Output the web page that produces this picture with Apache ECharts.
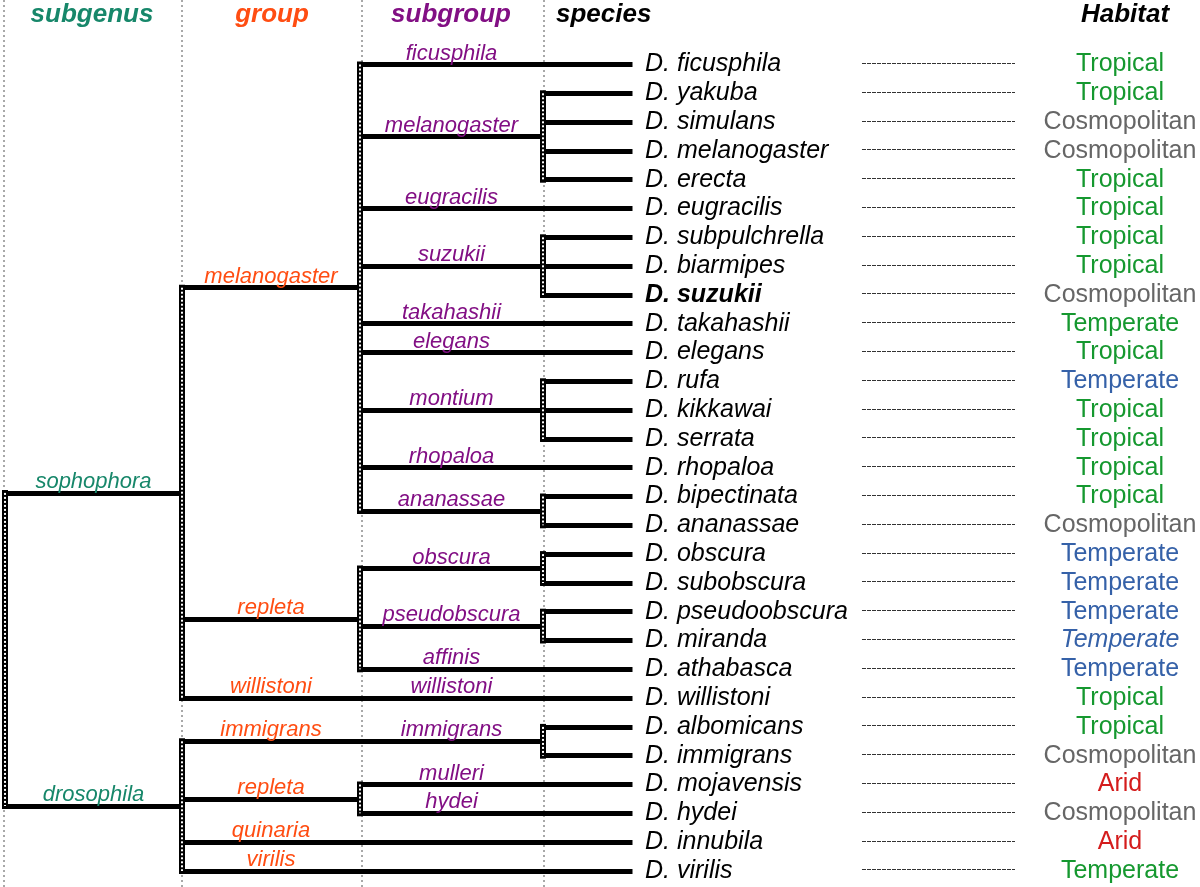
<!DOCTYPE html>
<html>
<head>
    <meta charset="utf-8">
    <title>Drosophila phylogeny</title>
    <script src="https://cdn.jsdelivr.net/npm/echarts@6/dist/echarts.min.js"></script>
</head>
<body style="margin:0;background:#fff;">
    <div id="main" style="width:1200px;height:887px;"></div>
    <script type="text/javascript">
        // one entry per species, top to bottom
        var species = ['D. ficusphila', 'D. yakuba', 'D. simulans', 'D. melanogaster', 'D. erecta',
            'D. eugracilis', 'D. subpulchrella', 'D. biarmipes', 'D. suzukii', 'D. takahashii',
            'D. elegans', 'D. rufa', 'D. kikkawai', 'D. serrata', 'D. rhopaloa',
            'D. bipectinata', 'D. ananassae', 'D. obscura', 'D. subobscura', 'D. pseudoobscura',
            'D. miranda', 'D. athabasca', 'D. willistoni', 'D. albomicans', 'D. immigrans',
            'D. mojavensis', 'D. hydei', 'D. innubila', 'D. virilis'];
        var subgenusOf = ['sophophora', 'sophophora', 'sophophora', 'sophophora', 'sophophora',
            'sophophora', 'sophophora', 'sophophora', 'sophophora', 'sophophora',
            'sophophora', 'sophophora', 'sophophora', 'sophophora', 'sophophora',
            'sophophora', 'sophophora', 'sophophora', 'sophophora', 'sophophora',
            'sophophora', 'sophophora', 'sophophora', 'drosophila', 'drosophila',
            'drosophila', 'drosophila', 'drosophila', 'drosophila'];
        var groupOf = ['melanogaster', 'melanogaster', 'melanogaster', 'melanogaster', 'melanogaster',
            'melanogaster', 'melanogaster', 'melanogaster', 'melanogaster', 'melanogaster',
            'melanogaster', 'melanogaster', 'melanogaster', 'melanogaster', 'melanogaster',
            'melanogaster', 'melanogaster', 'repleta', 'repleta', 'repleta',
            'repleta', 'repleta', 'willistoni', 'immigrans', 'immigrans',
            'repleta', 'repleta', 'quinaria', 'virilis'];
        var subgroupOf = ['ficusphila', 'melanogaster', 'melanogaster', 'melanogaster', 'melanogaster',
            'eugracilis', 'suzukii', 'suzukii', 'suzukii', 'takahashii',
            'elegans', 'montium', 'montium', 'montium', 'rhopaloa',
            'ananassae', 'ananassae', 'obscura', 'obscura', 'pseudobscura',
            'pseudobscura', 'affinis', 'willistoni', 'immigrans', 'immigrans',
            'mulleri', 'hydei', '', ''];
        var habitat = ['Tropical', 'Tropical', 'Cosmopolitan', 'Cosmopolitan', 'Tropical',
            'Tropical', 'Tropical', 'Tropical', 'Cosmopolitan', 'Temperate',
            'Tropical', 'Temperate', 'Tropical', 'Tropical', 'Tropical',
            'Tropical', 'Cosmopolitan', 'Temperate', 'Temperate', 'Temperate',
            'Temperate', 'Temperate', 'Tropical', 'Tropical', 'Cosmopolitan',
            'Arid', 'Cosmopolitan', 'Arid', 'Temperate'];
        var habitatTone = ['green', 'green', 'grey', 'grey', 'green',
            'green', 'green', 'green', 'grey', 'green',
            'green', 'blue', 'green', 'green', 'green',
            'green', 'grey', 'blue', 'blue', 'blue',
            'blue', 'blue', 'green', 'green', 'grey',
            'red', 'grey', 'red', 'green'];
        var headers = ['subgenus', 'group', 'subgroup', 'species', 'Habitat'];

        // layout
        var levelX = [5, 182, 360, 543];   // root, subgenus, group, subgroup nodes
        var leafX = 630;
        var guideX = [4, 182, 362, 544];
        var headerX = [92, 272, 451, 556, 1125];
        var rowTop = 64.5, rowStep = 28.8, H = 887;
        var yMin = -rowTop / rowStep, yMax = yMin + H / rowStep;
        var font = 'Liberation Sans';
        var rankColor = ['', '#17876a', '#ff4d12', '#820f84'];
        var toneColor = {green: '#15982f', blue: '#3561a8', grey: '#666666', red: '#d41c1c'};

        // build the tree from consecutive runs of each rank
        var rankKeys = [subgenusOf, groupOf, subgroupOf];
        function build(idx, depth, name) {
            var node = {x: levelX[depth], name: name, depth: depth, children: []};
            if (depth === rankKeys.length) {
                idx.forEach(function (i) { node.children.push({x: leafX, y: i, leaf: true}); });
            } else {
                var keys = rankKeys[depth], run = [];
                idx.forEach(function (i, k) {
                    run.push(i);
                    var next = idx[k + 1];
                    if (next === undefined || keys[next] !== keys[i]) {
                        node.children.push(build(run, depth + 1, keys[i]));
                        run = [];
                    }
                });
            }
            var c = node.children;
            node.y = (c[0].y + c[c.length - 1].y) / 2;
            return node;
        }
        var root = build(species.map(function (s, i) { return i; }), 0, '');

        var hSegs = [], vSegs = [], tags = [];
        function walk(node, parent) {
            if (parent) {
                hSegs.push({coords: [[parent.x, node.y], [node.x, node.y]]});
                if (node.name) {
                    tags.push({value: [(parent.x + node.x) / 2, node.y], name: node.name,
                        label: {color: rankColor[node.depth]}});
                }
            }
            if (node.leaf) return;
            var c = node.children;
            if (c.length > 1) vSegs.push({coords: [[node.x, c[0].y], [node.x, c[c.length - 1].y]]});
            c.forEach(function (ch) { walk(ch, node); });
        }
        walk(root, null);

        var guides = guideX.map(function (x) { return {coords: [[x, yMin], [x, yMax]]}; });
        var dashes = species.map(function (s, i) { return {coords: [[862, i - 0.04], [1015, i - 0.04]]}; });

        var speciesData = species.map(function (s, i) {
            return {value: [645, i], name: s, label: {fontWeight: s === 'D. suzukii' ? 'bold' : 'normal'}};
        });
        var habitatData = habitat.map(function (h, i) {
            return {value: [1120, i], name: h,
                label: {color: toneColor[habitatTone[i]], fontStyle: species[i] === 'D. miranda' ? 'italic' : 'normal'}};
        });
        var headerData = headers.map(function (h, i) {
            return {value: [headerX[i], yMin + 15 / rowStep], name: h,
                label: {color: i < 3 ? rankColor[i + 1] : '#000', position: i === 3 ? 'right' : 'inside'}};
        });

        var solid = {opacity: 1};
        var myChart = echarts.init(document.getElementById('main'));
        var option = {
            backgroundColor: '#fff',
            animation: false,
            grid: {left: 0, right: 0, top: 0, bottom: 0},
            xAxis: {type: 'value', min: 0, max: 1200, show: false},
            yAxis: {type: 'value', inverse: true, min: yMin, max: yMax, show: false},
            series: [
                {   // column guides
                    type: 'lines', coordinateSystem: 'cartesian2d', silent: true, z: 1,
                    lineStyle: {color: '#a8a8a8', width: 2, type: [2, 3], opacity: 1},
                    data: guides
                },
                {   // connectors to habitat
                    type: 'lines', coordinateSystem: 'cartesian2d', silent: true, z: 1,
                    lineStyle: {color: '#333', width: 1, type: [4, 1], opacity: 1},
                    data: dashes
                },
                {   // horizontal branches
                    type: 'lines', coordinateSystem: 'cartesian2d', silent: true, z: 2,
                    lineStyle: {color: '#000', width: 5, cap: 'square', opacity: 1},
                    data: hSegs
                },
                {   // vertical joints
                    type: 'lines', coordinateSystem: 'cartesian2d', silent: true, z: 2,
                    lineStyle: {color: '#000', width: 6, cap: 'square', opacity: 1},
                    data: vSegs
                },
                {
                    type: 'lines', coordinateSystem: 'cartesian2d', silent: true, z: 3,
                    lineStyle: {color: '#fff', width: 2, type: [2, 2], opacity: 1},
                    data: vSegs
                },
                {   // rank names on the branches
                    type: 'scatter', symbolSize: 0, silent: true, z: 4, itemStyle: solid,
                    label: {show: true, position: 'top', distance: 0, formatter: '{b}',
                        fontFamily: font, fontSize: 22, fontStyle: 'italic'},
                    data: tags
                },
                {   // species
                    type: 'scatter', symbolSize: 0, silent: true, z: 4, itemStyle: solid,
                    label: {show: true, position: 'right', distance: 0, formatter: '{b}',
                        fontFamily: font, fontSize: 25, fontStyle: 'italic', color: '#000'},
                    data: speciesData
                },
                {   // habitat
                    type: 'scatter', symbolSize: 0, silent: true, z: 4, itemStyle: solid,
                    label: {show: true, position: 'inside', formatter: '{b}',
                        fontFamily: font, fontSize: 25},
                    data: habitatData
                },
                {   // column headers
                    type: 'scatter', symbolSize: 0, silent: true, z: 4, itemStyle: solid,
                    label: {show: true, formatter: '{b}', distance: 0,
                        fontFamily: font, fontSize: 26, fontStyle: 'italic', fontWeight: 'bold'},
                    data: headerData
                }
            ]
        };
        myChart.setOption(option);
    </script>
</body>
</html>
